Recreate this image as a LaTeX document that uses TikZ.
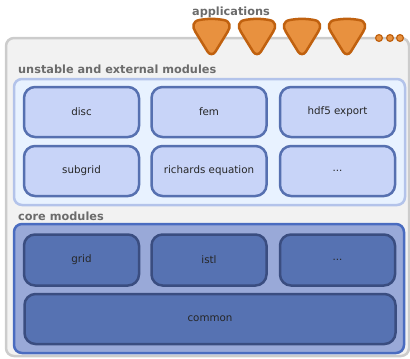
\documentclass[tikz,border=0pt]{standalone}
\usepackage{fontspec}
\setmainfont{DejaVu Sans}
\usepackage{xcolor}
\usepackage{tikz}
\usetikzlibrary{positioning, calc}

\definecolor{appfill}{HTML}{E8913F}
\definecolor{appline}{HTML}{C0610F}
\definecolor{outerfill}{HTML}{F2F2F2}
\definecolor{outerline}{HTML}{CCCCCC}
\definecolor{extfill}{HTML}{E8F2FF}
\definecolor{extline}{HTML}{B3C3EA}
\definecolor{extmod}{HTML}{C8D4F8}
\definecolor{extmodline}{HTML}{5670B0}
\definecolor{corefill}{HTML}{99A9D8}
\definecolor{coreline}{HTML}{4A6CC0}
\definecolor{coremod}{HTML}{5672B2}
\definecolor{coremodline}{HTML}{3A4D80}
\definecolor{labelgray}{HTML}{6B6B6B}

\begin{document}
\begin{tikzpicture}[x=1pt, y=-1pt]
    % Define styles
    \tikzstyle{layer} = [draw, line width=2.5pt, rounded corners=8pt]
    \tikzstyle{extbox} = [rectangle, draw=extmodline, fill=extmod, line width=2.5pt, rounded corners=11pt, minimum width=115pt, minimum height=50pt, align=center, text=black!85, font=\fontsize{10.3}{12}\selectfont]
    \tikzstyle{corebox} = [extbox, draw=coremodline, fill=coremod, minimum height=51pt]
    \tikzstyle{layername} = [anchor=west, inner sep=0pt, text=labelgray, font=\fontsize{11.3}{13}\selectfont\bfseries]
    \tikzstyle{app} = [draw=appline, fill=appfill, line width=2.5pt, line join=round]

    \useasboundingbox (0,0) rectangle (410,359);

    % Layers
    \draw[layer, draw=outerline, fill=outerfill] (6,38) rectangle (409,356);
    \draw[layer, draw=extline, fill=extfill] (14,79) rectangle (405,205);
    \draw[layer, draw=coreline, fill=corefill] (14,224) rectangle (404,353);

    % Layer titles
    \node (apptitle) at (231,12) [font=\fontsize{11.3}{13}\selectfont\bfseries, text=labelgray, inner sep=0pt] {applications};
    \node[layername] (exttitle) at (18,69) {unstable and external modules};
    \node[layername] (coretitle) at (18,216) {core modules};

    % Applications (rounded triangles) and the trailing dots
    \foreach \x in {211.5,257,302,347}
        \draw[app] (\x-12,20) .. controls (\x-4,18.5) and (\x+4,18.5) .. (\x+12,20)
            .. controls (\x+19,21) and (\x+19.5,27) .. (\x+16,32)
            -- (\x+4,51.5) .. controls (\x+2,55) and (\x-2,55) .. (\x-4,51.5)
            -- (\x-16,32) .. controls (\x-19.5,27) and (\x-19,21) .. (\x-12,20) -- cycle;
    \foreach \x in {379,390,400}
        \draw[draw=appline, fill=appfill, line width=1.2pt] (\x,38) circle (3.4pt);

    % Unstable and external modules
    \node[extbox] (disc) at (81.5,112) {disc};
    \node[extbox] (fem) at (209,112) {fem};
    \node[extbox] (hdf) at (337.5,112) {hdf5 export};
    \node[extbox] (subgrid) at (81.5,171) {subgrid};
    \node[extbox] (richards) at (209,171) {richards equation};
    \node[extbox] (moreext) at (337.5,171) {...};

    % Core modules
    \node[corebox] (grid) at (81.5,260) {grid};
    \node[corebox] (istl) at (209,260) {istl};
    \node[corebox] (morecore) at (337.5,260) {...};
    \node[corebox, minimum width=371pt, minimum height=50pt] (common) at (210,319) {common};

\end{tikzpicture}
\end{document}
